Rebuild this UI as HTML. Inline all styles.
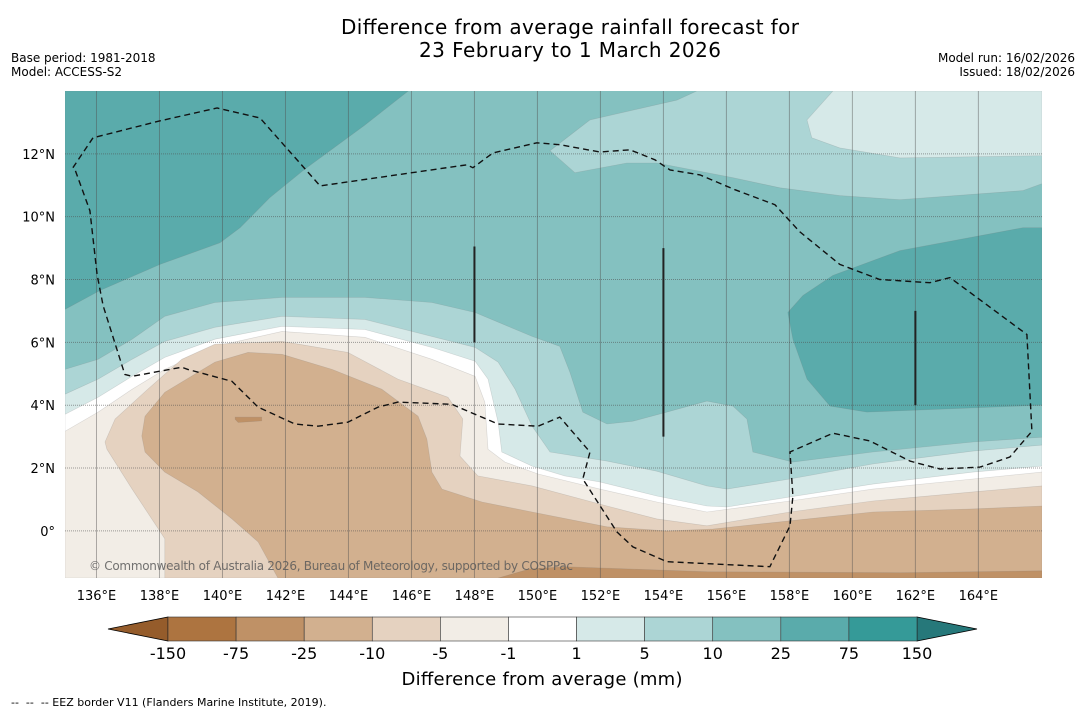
<!DOCTYPE html>
<html><head><meta charset="utf-8">
<style>
html,body{margin:0;padding:0;background:#fff;}
body{width:1085px;height:713px;overflow:hidden;position:relative;font-family:"DejaVu Sans","Liberation Sans",sans-serif;}
svg{position:absolute;left:0;top:0;}
</style></head>
<body>
<svg id="chart" width="1085" height="713" viewBox="0 0 1085 713" font-family="DejaVu Sans, Liberation Sans, sans-serif">
  <text x="570" y="34" font-size="20" textLength="458" text-anchor="middle">Difference from average rainfall forecast for</text>
  <text x="570" y="57" font-size="20" textLength="302" text-anchor="middle">23 February to 1 March 2026</text>
  <text x="11" y="62" font-size="12">Base period: 1981-2018</text>
  <text x="11" y="76" font-size="12">Model: ACCESS-S2</text>
  <text x="1075" y="62" font-size="12" text-anchor="end">Model run: 16/02/2026</text>
  <text x="1075" y="76" font-size="12" text-anchor="end">Issued: 18/02/2026</text>
  <defs><clipPath id="mapclip"><rect x="65" y="91" width="977" height="487"/></clipPath></defs>
  <g id="map" clip-path="url(#mapclip)"></g>
  <g id="axes"></g>
  <g id="cbar"></g>
  <text x="542" y="685" font-size="18" textLength="281" text-anchor="middle">Difference from average (mm)</text>
  <text x="11" y="706" font-size="11" style="white-space:pre">--  --  -- EEZ border V11 (Flanders Marine Institute, 2019).</text>
</svg>
<script>
// ---- axis extents ----
const lonMin = 135, lonMax = 166.02, latMin = -1.5, latMax = 14;
const lonTicks = [136,138,140,142,144,146,148,150,152,154,156,158,160,162,164];
const latTicks = [0,2,4,6,8,10,12];
const latTickLabels = ["0°","2°N","4°N","6°N","8°N","10°N","12°N"];
// ---- colour levels ----
const levelLabels = ["-150","-75","-25","-10","-5","-1","1","5","10","25","75","150"];
const levelColors = ["#ad7440","#bf9166","#d2b08f","#e5d2c0","#f2ede6","#ffffff","#d6e9e8","#acd5d5","#84c1c0","#5aabab","#359a98"];
const underColor = "#955c2b", overColor = "#26787a";
// ---- contour regions (lon, lat) ----
const regionTopLeft25 = [[135,14],[145.9,14],[144.5,12.9],[142.6,11.5],[141.5,10.6],[140.56,9.65],[139.92,9.17],[138.02,8.48],[136.11,7.65],[135,7.05]];
const regionRight25 = [[157.95,6.95],[158.43,7.49],[159.38,8.13],[161.51,8.92],[165.41,9.65],[166.02,9.65],[166.02,4.0],[160.46,3.78],[159.29,3.97],[158.56,4.83],[158.11,6.1]];
const regionTop5 = [[155.06,14],[166.02,14],[166.02,11.05],[165.41,10.83],[161.51,10.54],[159.6,10.67],[157.7,10.92],[156.21,11.24],[153.79,11.71],[152.84,11.71],[151.19,11.40],[150.4,12.10],[151.67,13.08],[154.43,13.71]];
const regionTop1 = [[159.38,14],[158.56,13.08],[158.71,12.51],[159.6,12.19],[161.51,11.87],[166.02,11.94],[166.02,14]];
const boundSouth5 = [[135,5.14],[136.05,5.46],[137.13,6.10],[138.17,6.83],[139.76,7.27],[141.89,7.43],[144.52,7.43],[146.65,7.27],[148.02,6.95],[149.83,6.19],[150.71,5.87],[151.03,5.05],[151.44,3.78],[152.21,3.40],[153.03,3.49],[154.11,3.78],[155.38,4.13],[156.21,3.97],[156.65,3.56],[156.84,2.51],[158.11,2.19],[160.65,2.51],[163.83,2.83],[166.02,2.98]];
const boundSouth1 = [[135,4.35],[136.05,4.83],[137.13,5.46],[138.17,6.03],[139.76,6.48],[141.89,6.83],[144.52,6.73],[146.65,6.19],[148.02,5.84],[148.75,5.37],[149.29,4.51],[149.83,3.33],[150.40,2.51],[152.21,2.22],[153.79,1.90],[155.38,1.43],[156.02,1.33],[158.02,1.65],[160.65,2.13],[163.83,2.54],[166.02,2.73]];
const boundWhite = [[135,3.71],[136.05,4.25],[137.13,4.92],[138.17,5.52],[139.76,6.10],[141.89,6.51],[144.52,6.41],[146.65,5.84],[148.02,5.40],[148.43,4.83],[148.75,3.46],[148.87,2.51],[149.83,2.06],[150.87,1.75],[151.98,1.56],[153.79,1.11],[155.38,0.79],[156.02,0.76],[158.02,1.08],[160.65,1.49],[163.83,1.87],[166.02,2.06]];
const boundMinus5 = [[135,3.17],[136.05,3.78],[137.13,4.51],[138.17,5.14],[139.76,5.87],[141.89,6.35],[144.52,6.16],[146.65,5.46],[148.02,4.92],[148.33,4.10],[148.43,2.60],[148.97,2.19],[150.02,1.81],[151.98,1.33],[153.79,0.92],[155.38,0.60],[158.02,0.95],[160.65,1.33],[163.83,1.65],[166.02,1.87]];
const regionMinus10 = [[138.17,-1.5],[138.17,-0.25],[137.13,1.33],[136.33,2.60],[136.27,2.83],[136.59,3.56],[137.63,4.51],[138.71,5.46],[139.76,5.94],[141.89,6.03],[143.98,5.68],[145.57,4.83],[147.16,4.25],[147.63,3.56],[147.54,2.38],[148.11,1.75],[149.83,1.43],[152.21,0.79],[153.79,0.38],[155.38,0.16],[158.02,0.60],[160.65,0.95],[163.83,1.24],[166.02,1.43],[166.02,-1.5]];
const regionMinus25 = [[141.76,-1.5],[141.13,-0.35],[140.30,0.38],[139.22,1.24],[138.17,1.87],[137.54,2.51],[137.44,3.02],[137.54,3.65],[138.17,4.41],[139.76,5.37],[140.81,5.68],[141.89,5.62],[143.48,5.14],[145.06,4.51],[146.21,3.65],[146.49,2.92],[146.65,1.87],[146.97,1.33],[148.24,0.92],[149.83,0.60],[152.21,0.13],[154.11,0.00],[155.57,0.06],[158.02,0.32],[160.65,0.60],[163.83,0.70],[166.02,0.79],[166.02,-1.5]];
const regionMinus75 = [[148.75,-1.5],[149.76,-1.21],[150.87,-1.14],[155.38,-1.30],[161.51,-1.33],[166.02,-1.27],[166.02,-1.5]];
const regionMinus75Blob = [[140.4,3.62],[141.25,3.62],[141.25,3.5],[140.5,3.45],[140.4,3.55]];
// ---- EEZ border ----
const eezBorder = [[135.25,11.56],[135.89,12.51],[138.02,13.05],[139.83,13.46],[141.19,13.14],[143.10,10.98],[147.76,11.65],[147.95,11.56],[148.59,12.03],[149.98,12.35],[150.71,12.29],[151.98,12.06],[152.94,12.13],[153.73,11.81],[154.21,11.49],[155.16,11.33],[156.27,10.86],[157.54,10.38],[158.33,9.52],[159.60,8.48],[160.87,8.00],[162.46,7.90],[163.10,8.06],[165.54,6.25],[165.70,3.17],[165.00,2.35],[164.05,2.03],[162.78,1.97],[161.83,2.22],[160.56,2.86],[159.38,3.11],[158.02,2.51],[158.11,1.11],[158.02,0.16],[157.38,-1.14],[154.11,-0.98],[153.03,-0.51],[152.52,-0.03],[151.44,1.65],[151.67,2.51],[150.71,3.62],[150.02,3.33],[148.75,3.40],[147.48,3.94],[147.29,4.03],[145.57,4.10],[144.94,3.94],[143.98,3.46],[143.03,3.33],[142.30,3.40],[141.13,3.94],[140.30,4.76],[138.90,5.14],[138.71,5.21],[137.13,4.92],[136.90,4.98],[136.21,7.17],[136.02,8.16],[135.79,10.19],[135.32,11.49],[135.25,11.56]];
// ---- straight boundary segments [lon, latTop, latBottom] ----
const boundaryLines = [[148,9.05,6.0],[154,9.0,3.0],[162,7.0,4.0]];

// ---- axis functions ----
const px0 = 65, px1 = 1042, py0 = 91, py1 = 578;
function X(lon){ return px0 + (lon - lonMin) / (lonMax - lonMin) * (px1 - px0); }
function Y(lat){ return py1 - (lat - latMin) / (latMax - latMin) * (py1 - py0); }
const NS = "http://www.w3.org/2000/svg";
const map = document.getElementById('map');
const axes = document.getElementById('axes');
const cbar = document.getElementById('cbar');
function mk(tag, parent){ const e = document.createElementNS(NS, tag); parent.appendChild(e); return e; }
function pts(arr){ return arr.map(p => X(p[0]).toFixed(1) + ',' + Y(p[1]).toFixed(1)).join(' '); }
function closedBelow(b){ return b.concat([[lonMax, latMin],[lonMin, latMin]]); }

let bg = mk('rect', map);


bg.setAttribute('x', X(lonMin)); bg.setAttribute('y', Y(latMax));
bg.setAttribute('width', X(lonMax) - X(lonMin)); bg.setAttribute('height', Y(latMin) - Y(latMax));
bg.setAttribute('fill', levelColors[8]);

const layers = [
  ['band-25-to-75-northwest', regionTopLeft25, 9],
  ['band-25-to-75-east', regionRight25, 9],
  ['band-5-to-10-northeast', regionTop5, 7],
  ['band-1-to-5-northeast', regionTop1, 6],
  ['band-5-to-10-south', closedBelow(boundSouth5), 7],
  ['band-1-to-5-south', closedBelow(boundSouth1), 6],
  ['band-near-zero', closedBelow(boundWhite), 5],
  ['band-minus-5', closedBelow(boundMinus5), 4],
  ['band-minus-10', regionMinus10, 3],
  ['band-minus-25', regionMinus25, 2],
  ['band-minus-75', regionMinus75, 1],
  ['band-minus-75-patch', regionMinus75Blob, 1]
];
layers.forEach(l => {
  const p = mk('polygon', map);
  
  
  p.setAttribute('points', pts(l[1]));
  p.setAttribute('fill', levelColors[l[2]]);
  p.setAttribute('stroke', 'rgba(120,120,120,0.25)');
  p.setAttribute('stroke-width', '0.6');
});

// gridlines
lonTicks.forEach(lon => {
  const g = mk('line', map);
  
  
  g.setAttribute('x1', X(lon)); g.setAttribute('x2', X(lon));
  g.setAttribute('y1', Y(latMax)); g.setAttribute('y2', Y(latMin));
  g.setAttribute('stroke', 'rgba(80,80,80,0.45)'); g.setAttribute('stroke-width', '1');
});
latTicks.forEach(lat => {
  const g = mk('line', map);
  
  
  g.setAttribute('x1', X(lonMin)); g.setAttribute('x2', X(lonMax));
  g.setAttribute('y1', Y(lat)); g.setAttribute('y2', Y(lat));
  g.setAttribute('stroke', 'rgba(80,80,80,0.55)'); g.setAttribute('stroke-width', '1');
  g.setAttribute('stroke-dasharray', '1,1');
});

// EEZ border
const eez = mk('polyline', map);


eez.setAttribute('points', pts(eezBorder));
eez.setAttribute('fill', 'none'); eez.setAttribute('stroke', '#111');
eez.setAttribute('stroke-width', '1.4'); eez.setAttribute('stroke-dasharray', '6,4');

boundaryLines.forEach(b => {
  const l = mk('line', map);
  
  
  l.setAttribute('x1', X(b[0])); l.setAttribute('x2', X(b[0]));
  l.setAttribute('y1', Y(b[1])); l.setAttribute('y2', Y(b[2]));
  l.setAttribute('stroke', '#222'); l.setAttribute('stroke-width', '2');
});

const cr = mk('text', map);


cr.setAttribute('x', 89); cr.setAttribute('y', 570);
cr.setAttribute('font-size', '12'); cr.setAttribute('textLength', '484');
cr.setAttribute('fill', 'rgba(90,90,90,0.85)');
cr.textContent = '© Commonwealth of Australia 2026, Bureau of Meteorology, supported by COSPPac';

// tick labels
lonTicks.forEach(lon => {
  const t = mk('text', axes);
  
  
  t.setAttribute('x', X(lon)); t.setAttribute('y', 600);
  t.setAttribute('font-size', '13'); t.setAttribute('text-anchor', 'middle');
  t.textContent = lon + '°E';
});
latTicks.forEach((lat, i) => {
  const t = mk('text', axes);
  
  
  t.setAttribute('x', 55); t.setAttribute('y', Y(lat) + 5);
  t.setAttribute('font-size', '13'); t.setAttribute('text-anchor', 'end');
  t.textContent = latTickLabels[i];
});

// colorbar
const cbX0 = 168, cbX1 = 917, cbY = 617, cbH = 24;
const segW = (cbX1 - cbX0) / levelColors.length;
const under = mk('polygon', cbar);


under.setAttribute('points', `${cbX0},${cbY} ${cbX0},${cbY+cbH} 108,${cbY+cbH/2}`);
under.setAttribute('fill', underColor); under.setAttribute('stroke', '#000'); under.setAttribute('stroke-width', '0.8');
const over = mk('polygon', cbar);


over.setAttribute('points', `${cbX1},${cbY} ${cbX1},${cbY+cbH} 977,${cbY+cbH/2}`);
over.setAttribute('fill', overColor); over.setAttribute('stroke', '#000'); over.setAttribute('stroke-width', '0.8');
levelColors.forEach((c, i) => {
  const r = mk('rect', cbar);
  
  
  r.setAttribute('x', cbX0 + i * segW); r.setAttribute('y', cbY);
  r.setAttribute('width', segW); r.setAttribute('height', cbH);
  r.setAttribute('fill', c); r.setAttribute('stroke', '#333'); r.setAttribute('stroke-width', '0.6');
});
levelLabels.forEach((lab, i) => {
  const t = mk('text', cbar);
  
  
  t.setAttribute('x', cbX0 + i * segW); t.setAttribute('y', 659);
  t.setAttribute('font-size', '16'); t.setAttribute('text-anchor', 'middle');
  t.textContent = lab;
});
</script>
</body></html>
